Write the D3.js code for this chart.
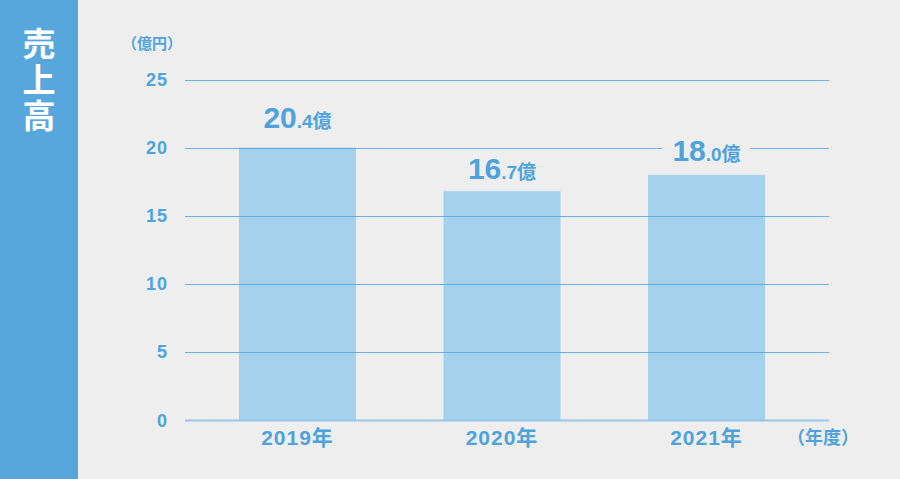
<!DOCTYPE html>
<html><head><meta charset="utf-8">
<script src="https://cdn.jsdelivr.net/npm/d3@7"></script>
<style>
html,body{margin:0;padding:0;background:#eeeeee;}
svg{display:block;font-family:"Liberation Sans","Noto Sans CJK JP",sans-serif;font-weight:700;}
</style></head>
<body><svg id="c" width="900" height="479"></svg>
<script>
const categories = ["2019年", "2020年", "2021年"];
const barValues = [20.0, 16.8, 18.0];
const labelValues = [20.4, 16.7, 18.0];
const labelInt = ["20", "16", "18"];
const labelDec = [".4", ".7", ".0"];
const yTicks = [0, 5, 10, 15, 20, 25];
const title = "売上高";
const yUnit = "（億円）";
const xUnit = "（年度）";
const unitSuffix = "億";

const svg = d3.select("#c");
const blue = "#4fa3db";

svg.append("rect").attr("width", 900).attr("height", 479).attr("fill", "#eeeeee");
svg.append("rect").attr("width", 78).attr("height", 479).attr("fill", "#57a7dc");

svg.append("text").attr("fill", "#ffffff").attr("font-size", 33)
  .attr("font-family", "'Noto Sans CJK JP',sans-serif")
  .style("writing-mode", "vertical-rl").attr("letter-spacing", 3)
  .attr("x", 39).attr("y", 27).text(title);

const y = d3.scaleLinear().domain([0, 25]).range([420, 79.5]);
const x = d3.scaleBand().domain(categories).range([195.25, 808.75]).paddingInner(0.428).paddingOuter(0.214);

// bars
svg.append("g").selectAll("rect").data(categories).join("rect")
  .attr("x", d => x(d)).attr("width", x.bandwidth())
  .attr("y", (d, i) => y(barValues[i]))
  .attr("height", (d, i) => y(0) - y(barValues[i]))
  .attr("fill", "#a5d1ed");

// gridlines
svg.append("g").selectAll("line").data(yTicks).join("line")
  .attr("x1", 185).attr("x2", 829)
  .attr("y1", d => Math.round(y(d)) + 0.5).attr("y2", d => Math.round(y(d)) + 0.5)
  .attr("stroke", d => d === 0 ? "#8cc0e6" : "#5aaae0")
  .attr("stroke-width", d => d === 0 ? 2 : 1)
  .attr("stroke-opacity", d => d === 0 ? 0.85 : 0.9);

// y tick labels
svg.append("g").selectAll("text").data(yTicks).join("text")
  .attr("x", 168).attr("y", d => y(d) + 6.5)
  .attr("text-anchor", "end").attr("font-size", 18).attr("letter-spacing", 1).attr("fill", blue)
  .text(d => d);

svg.append("text").attr("x", 152).attr("y", 49).attr("text-anchor", "middle")
  .attr("font-size", 15).attr("fill", blue).text(yUnit);

// x labels
svg.append("g").selectAll("text").data(categories).join("text")
  .attr("x", d => x(d) + x.bandwidth() / 2).attr("y", 445)
  .attr("text-anchor", "middle").attr("font-size", 21).attr("letter-spacing", 1).attr("fill", blue)
  .text(d => d);

svg.append("text").attr("x", 823).attr("y", 444).attr("text-anchor", "middle")
  .attr("font-size", 18).attr("fill", blue).text(xUnit);

// value labels
const lg = svg.append("g");
categories.forEach((c, i) => {
  const g = lg.append("g");
  const bg = g.append("rect").attr("fill", "#eeeeee");
  const t = g.append("text").attr("x", x(c) + x.bandwidth() / 2).attr("y", y(labelValues[i]) - 14)
    .attr("text-anchor", "middle").attr("fill", blue);
  t.append("tspan").attr("font-size", 30).text(labelInt[i]);
  t.append("tspan").attr("font-size", 19).text(labelDec[i]);
  t.append("tspan").attr("font-size", 19).text(unitSuffix);
  const b = t.node().getBBox();
  bg.attr("x", b.x - 10).attr("y", b.y).attr("width", b.width + 20).attr("height", b.height);
});
</script></body></html>
